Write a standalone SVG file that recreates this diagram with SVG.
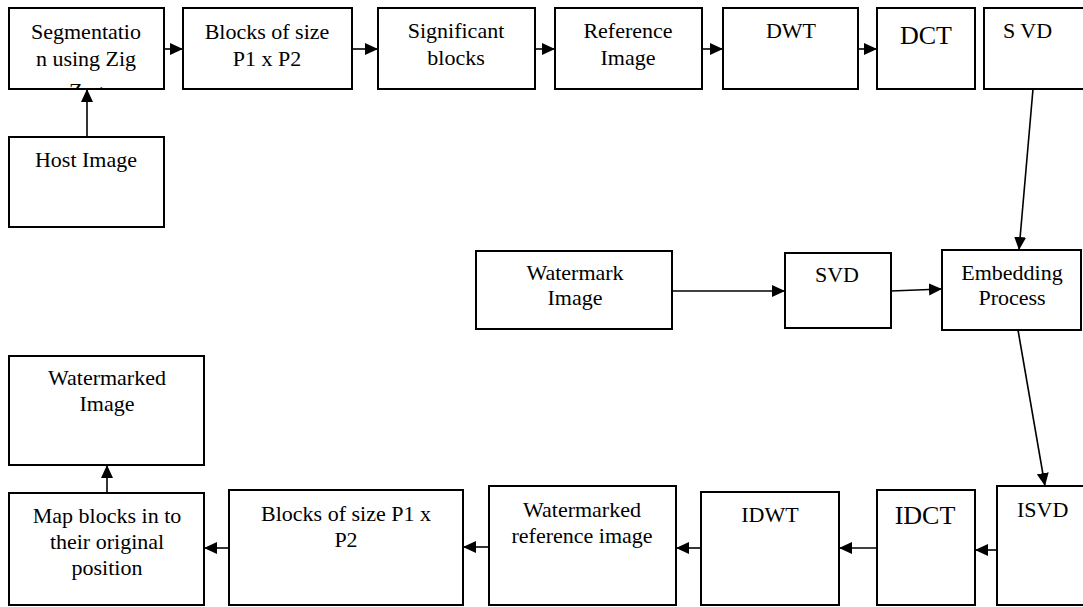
<svg xmlns="http://www.w3.org/2000/svg" width="1083" height="607" viewBox="0 0 1083 607">
<style>
.box{fill:#fff;stroke:#000;stroke-width:2}
.t{font-family:"Liberation Serif","Times New Roman",serif;font-size:22px;fill:#000;text-anchor:middle}
.big{font-size:26px}
.c{stroke:#000;stroke-width:1.6;fill:none;marker-end:url(#ah)}
</style>
<defs>
<marker id="ah" markerUnits="userSpaceOnUse" markerWidth="14" markerHeight="13" refX="13" refY="6" orient="auto">
<path d="M0,0 L13,6 L0,12 z" fill="#000"/>
</marker>
<clipPath id="segclip"><rect x="9" y="8" width="155" height="80"/></clipPath>
</defs>
<rect width="1083" height="607" fill="#fff"/>
<g id="seg"><rect class="box" x="9" y="8" width="155" height="81"/><g clip-path="url(#segclip)"><text class="t" x="86" y="39">Segmentatio</text><text class="t" x="86" y="66">n using Zig</text><text class="t" x="86" y="98">Zag</text></g></g>
<g id="blocks1"><rect class="box" x="183" y="8" width="169" height="81"/><text class="t" x="267" y="39">Blocks of size</text><text class="t" x="267" y="66">P1 x P2</text></g>
<g id="sig"><rect class="box" x="378" y="8" width="157" height="81"/><text class="t" x="456" y="38">Significant</text><text class="t" x="456" y="65">blocks</text></g>
<g id="ref"><rect class="box" x="555" y="8" width="147" height="81"/><text class="t" x="628" y="38">Reference</text><text class="t" x="628" y="65">Image</text></g>
<g id="dwt"><rect class="box" x="723" y="8" width="135" height="81"/><text class="t" x="791" y="38">DWT</text></g>
<g id="dct"><rect class="box" x="877" y="8" width="98" height="81"/><text class="t big" x="926" y="44">DCT</text></g>
<g id="svd1"><rect class="box" x="984" y="8" width="110" height="81"/><text class="t" x="1003" y="38" style="text-anchor:start">S VD</text></g>
<g id="host"><rect class="box" x="9" y="137" width="155" height="90"/><text class="t" x="86" y="167">Host Image</text></g>
<g id="wm"><rect class="box" x="476" y="251" width="196" height="78"/><text class="t" x="575" y="280">Watermark</text><text class="t" x="575" y="305">Image</text></g>
<g id="svd2"><rect class="box" x="785" y="253" width="106" height="75"/><text class="t" x="837" y="282">SVD</text></g>
<g id="emb"><rect class="box" x="942" y="250" width="139" height="80"/><text class="t" x="1012" y="280">Embedding</text><text class="t" x="1012" y="305">Process</text></g>
<g id="wmd"><rect class="box" x="9" y="356" width="195" height="109"/><text class="t" x="107" y="385">Watermarked</text><text class="t" x="107" y="411">Image</text></g>
<g id="map"><rect class="box" x="9" y="493" width="195" height="112"/><text class="t" x="107" y="523">Map blocks in to</text><text class="t" x="107" y="549">their original</text><text class="t" x="107" y="575">position</text></g>
<g id="blocks2"><rect class="box" x="229" y="490" width="234" height="115"/><text class="t" x="346" y="521">Blocks of size P1 x</text><text class="t" x="346" y="547">P2</text></g>
<g id="wref"><rect class="box" x="489" y="486" width="187" height="119"/><text class="t" x="582" y="517">Watermarked</text><text class="t" x="582" y="543">reference image</text></g>
<g id="idwt"><rect class="box" x="701" y="492" width="138" height="113"/><text class="t" x="770" y="522">IDWT</text></g>
<g id="idct"><rect class="box" x="877" y="490" width="98" height="115"/><text class="t big" x="925" y="524">IDCT</text></g>
<g id="isvd"><rect class="box" x="997" y="486" width="100" height="119"/><text class="t" x="1017" y="517" style="text-anchor:start">ISVD</text></g>
<g id="connectors">
<line class="c" x1="164" y1="49" x2="183" y2="49"/>
<line class="c" x1="352" y1="49" x2="378" y2="49"/>
<line class="c" x1="535" y1="49" x2="555" y2="49"/>
<line class="c" x1="702" y1="49" x2="723" y2="49"/>
<line class="c" x1="858" y1="49" x2="877" y2="49"/>
<line class="c" x1="87" y1="137" x2="87" y2="89"/>
<line class="c" x1="1033" y1="89" x2="1019" y2="250"/>
<line class="c" x1="672" y1="291" x2="785" y2="291"/>
<line class="c" x1="891" y1="291" x2="942" y2="289"/>
<line class="c" x1="1018" y1="330" x2="1045" y2="486"/>
<line class="c" x1="997" y1="550" x2="975" y2="550"/>
<line class="c" x1="877" y1="548" x2="839" y2="548"/>
<line class="c" x1="701" y1="548" x2="676" y2="548"/>
<line class="c" x1="489" y1="547" x2="463" y2="547"/>
<line class="c" x1="229" y1="548" x2="204" y2="548"/>
<line class="c" x1="107" y1="493" x2="107" y2="465"/>
</g>
</svg>
